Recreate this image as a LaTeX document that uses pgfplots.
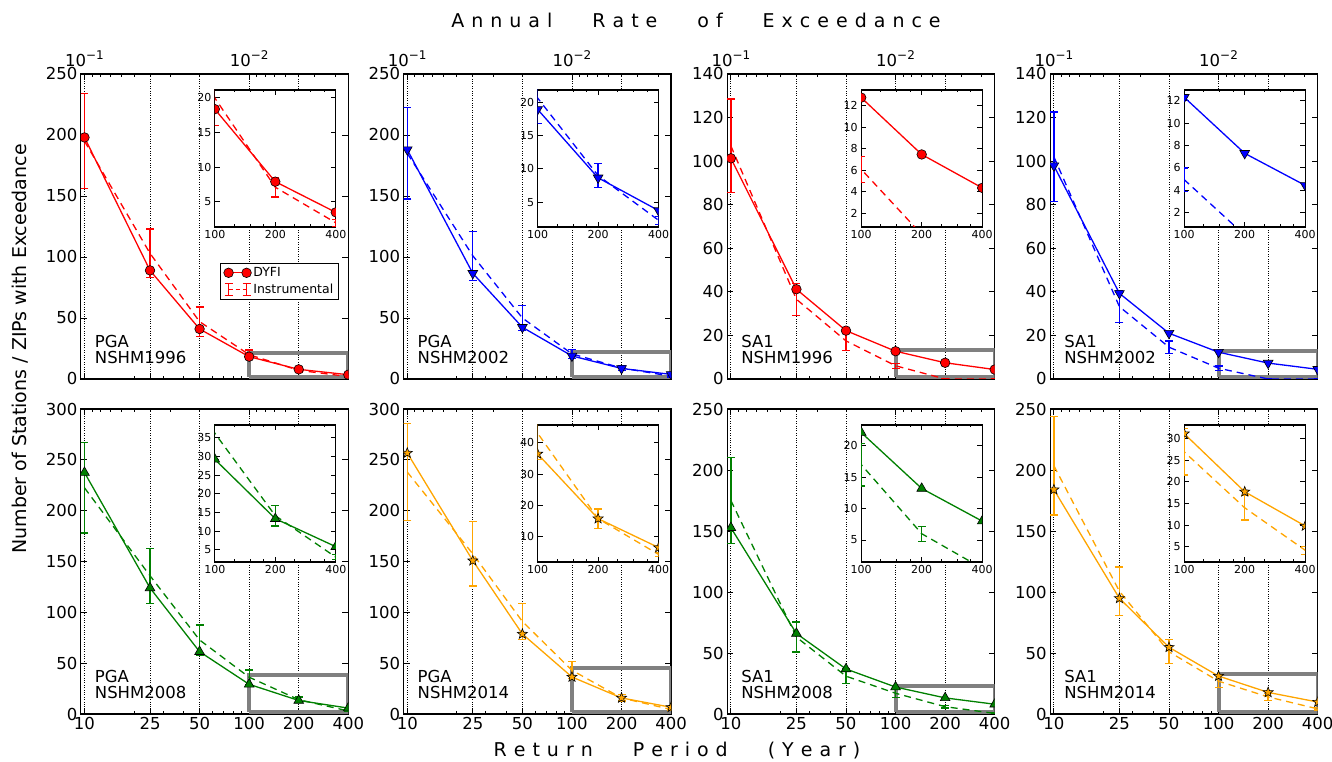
\documentclass[border=0pt]{standalone}
\usepackage{fontspec}
\setmainfont{DejaVu Sans}
\usepackage{pgfplots}
\usepackage{pgfplotstable}
\pgfplotsset{compat=1.18}

\definecolor{mplgreen}{rgb}{0,0.5,0}
\definecolor{mplorange}{HTML}{FFA500}

% filled five-pointed star
\pgfdeclareplotmark{fstar}{%
  \pgfpathmoveto{\pgfpointpolar{90}{\pgfplotmarksize}}%
  \pgfpathlineto{\pgfpointpolar{126}{0.42\pgfplotmarksize}}%
  \pgfpathlineto{\pgfpointpolar{162}{\pgfplotmarksize}}%
  \pgfpathlineto{\pgfpointpolar{198}{0.42\pgfplotmarksize}}%
  \pgfpathlineto{\pgfpointpolar{234}{\pgfplotmarksize}}%
  \pgfpathlineto{\pgfpointpolar{270}{0.42\pgfplotmarksize}}%
  \pgfpathlineto{\pgfpointpolar{306}{\pgfplotmarksize}}%
  \pgfpathlineto{\pgfpointpolar{342}{0.42\pgfplotmarksize}}%
  \pgfpathlineto{\pgfpointpolar{18}{\pgfplotmarksize}}%
  \pgfpathlineto{\pgfpointpolar{54}{0.42\pgfplotmarksize}}%
  \pgfpathclose\pgfusepathqfillstroke}

% x = return period, d = DYFI, i = instrumental, e = instrumental error
\pgfplotstableread{
x d i e
10 198 195 39
25 89 103 20
50 41 47 12
100 18.3 19.9 3.9
200 7.9 7.1 1.4
400 3.5 2.0 0.5
}\tA
\pgfplotstableread{
x d i e
10 188 185 37.5
25 86.6 101 20
50 42.4 50 10
100 18.9 20.6 3.8
200 8.66 9.0 1.8
400 3.76 2.3 0.6
}\tB
\pgfplotstableread{
x d i e
10 101.3 107 21.5
25 41.2 36.6 7.3
50 22.2 17.5 4.3
100 12.74 6.07 1.2
200 7.45 0 0
400 4.34 0 0
}\tC
\pgfplotstableread{
x d i e
10 97.9 102 20.5
25 39.3 33.2 7.2
50 21 14.6 2.8
100 12.3 4.95 1.05
200 7.3 0 0
400 4.44 0 0
}\tD
\pgfplotstableread{
x d i e
10 237.5 222.5 44.5
25 124 136 27
50 61.3 72.8 14.7
100 29.2 36.2 7
200 13.3 14.1 2.75
400 5.8 3.0 0.7
}\tE
\pgfplotstableread{
x d i e
10 256.7 238 47.4
25 150.8 157.5 31.5
50 78.7 91 18
100 36.4 43 8.4
200 15.8 15.8 3.1
400 6.6 4.4 0.6
}\tF
\pgfplotstableread{
x d i e
10 152.7 175 35
25 66 63 12.3
50 36.9 31 6
100 22.1 17.0 3.4
200 13.2 6.0 1.2
400 8.0 0.5 0.3
}\tG
\pgfplotstableread{
x d i e
10 183.9 203.5 40.5
25 94.8 100.6 20
50 54.7 51 9.8
100 31.1 26.9 5.35
200 17.7 14.0 2.8
400 9.8 4.2 0.9
}\tH

\pgfplotsset{
  /pgf/number format/assume math mode=true,
  dyfi/.style={line width=1.3pt, solid},
  dyfi-red/.style={dyfi, red, mark=*, mark size=4.8pt,
    mark options={fill=red, draw=black, line width=0.6pt, solid}},
  dyfi-blue/.style={dyfi, blue, mark=triangle*, mark size=5.6pt,
    mark options={rotate=180, fill=blue, draw=black, line width=0.6pt, solid}},
  dyfi-green/.style={dyfi, mplgreen, mark=triangle*, mark size=5.6pt,
    mark options={fill=mplgreen, draw=black, line width=0.6pt, solid}},
  dyfi-orange/.style={dyfi, mplorange, mark=fstar, mark size=5.3pt,
    mark options={fill=mplorange, draw=black, line width=0.6pt, solid}},
  instr/.style={line width=1.3pt, dash pattern=on 7pt off 5pt, mark=none,
    error bars/y dir=both, error bars/y explicit,
    error bars/error bar style={solid, line width=1.3pt},
    error bars/error mark options={rotate=90, solid, line width=1.3pt, mark size=4pt}},
  instr-red/.style={instr, red},
  instr-blue/.style={instr, blue},
  instr-green/.style={instr, mplgreen},
  instr-orange/.style={instr, mplorange},
}
\tikzset{panel label/.style={anchor=south west, inner sep=0pt, align=left,
    font=\fontsize{16.5}{16.5}\selectfont}}

% #1 left, #2 bottom, #3 table, #4 colour, #5 y options, #6 label,
% #7/#8 inset y range (also the grey box), #9 inset y ticks
% \botlabels / \toplabels hold the x tick labels of the row
\newcommand{\panel}[9]{%
  \begin{axis}[
    scale only axis, width=267.5pt, height=305pt,
    xmode=log, xmin=9.5, xmax=400, ymin=0, #5,
    xtick={10,25,50,100,200,400}, minor xtick={20,30,40,60,70,80,90,300},
    xticklabels/.expand once=\botlabels,
    xtick pos=left, ytick pos=both, tick align=inside,
    xmajorgrids, major grid style={black, dotted, line width=0.8pt},
    axis line style={line width=1.3pt},
    major tick length=6pt, minor tick length=3pt,
    tick style={black, line width=0.9pt},
    tick label style={font=\fontsize{16.5}{19}\selectfont},
    clip marker paths=true,
    legend cell align=left,
    legend style={at={(0.964,0.38)}, anchor=north east, draw=black,
      line width=0.8pt, font=\fontsize{12.5}{14}\selectfont, row sep=2pt},
    at={(#1pt,#2pt)}, anchor=south west]
    \addplot[gray, line width=4pt, line join=miter, forget plot]
      coordinates {(100,#7) (400,#7) (400,#8) (100,#8) (100,#7)};
    \addplot[instr-#4, forget plot] table[x=x, y=i, y error=e] {#3};
    \addplot[dyfi-#4, forget plot] table[x=x, y=d] {#3};
    \node[panel label] at (rel axis cs:0.052,0.048) {#6};
    \panelextra
  \end{axis}
  \begin{axis}[
    scale only axis, width=267.5pt, height=305pt,
    xmode=log, xmin=9.5, xmax=400, ymin=0, ymax=1,
    axis x line*=top, hide y axis, tick align=inside,
    xtick={10,100}, xticklabels/.expand once=\toplabels,
    minor xtick={11.11,12.5,14.29,16.67,20,25,33.33,50,111.1,125,142.9,166.7,200,250,333.3},
    axis line style={line width=1.3pt},
    major tick length=6pt, minor tick length=3pt,
    tick style={black, line width=0.9pt},
    at={(#1pt,#2pt)}, anchor=south west]
  \end{axis}
  \begin{axis}[
    scale only axis, width=121pt, height=137pt,
    xmode=log, xmin=100, xmax=400, ymin=#7, ymax=#8, ytick={#9},
    xtick={100,200,400}, xticklabels={100,200,400},
    minor xtick={125,150,175,250,300,350},
    tick align=inside, axis background/.style={fill=white},
    axis line style={line width=1.3pt},
    major tick length=5pt, minor tick length=2.5pt,
    tick style={black, line width=0.9pt},
    tick label style={font=\fontsize{11}{13}\selectfont},
    clip marker paths=true,
    at={({#1pt+134pt},{#2pt+152pt})}, anchor=south west]
    \addplot[instr-#4] table[x=x, y=i, y error=e] {#3};
    \addplot[dyfi-#4] table[x=x, y=d] {#3};
  \end{axis}%
}

\newcommand{\lsp}{\hspace{7pt}}
\newcommand{\wsp}{\hspace{40pt}}
% rate labels on the top axis; the strut's depth lifts them off the frame
\newcommand{\tenpow}[1]{{\fontsize{16.5}{19}\selectfont
  \rule[-4pt]{0pt}{4pt}10\raisebox{0.45em}{\fontsize{12}{12}\selectfont −#1}}}

\begin{document}
\begin{tikzpicture}
\useasboundingbox (0,0) rectangle (1332pt,762pt);

\def\panelextra{%
  \addlegendimage{legend image code/.code={
    \draw[red, line width=1.3pt, mark=*, mark size=4.8pt,
      mark options={fill=red, draw=black, line width=0.6pt}]
      plot coordinates {(0pt,0pt) (18pt,0pt)};}}
  \addlegendentry{DYFI}
  \addlegendimage{legend image code/.code={
    \draw[red, line width=1.3pt, dash pattern=on 4pt off 3pt] (0pt,0pt) -- (18pt,0pt);
    \draw[red, line width=1.3pt] (0pt,-6pt) -- (0pt,6pt) (-4pt,-6pt) -- (4pt,-6pt)
      (-4pt,6pt) -- (4pt,6pt) (18pt,-6pt) -- (18pt,6pt)
      (14pt,-6pt) -- (22pt,-6pt) (14pt,6pt) -- (22pt,6pt);}}
  \addlegendentry{Instrumental}}

% top row
\def\botlabels{{,,,,,}}
\def\toplabels{{\tenpow{1},\tenpow{2}}}
\panel{80.8}{383}{\tA}{red}{ymax=250, ytick={0,50,...,250}}{PGA\\NSHM1996}{1.4}{21.05}{5,10,15,20}
\def\panelextra{}
\panel{403.6}{383}{\tB}{blue}{ymax=250, ytick={0,50,...,250}}{PGA\\NSHM2002}{1.3}{21.8}{5,10,15,20}
\panel{727.2}{383}{\tC}{red}{ymax=140, ytick={0,20,...,140}}{SA1\\NSHM1996}{0.7}{13.45}{2,4,...,12}
\panel{1050.2}{383}{\tD}{blue}{ymax=140, ytick={0,20,...,140}}{SA1\\NSHM2002}{0.73}{12.95}{2,4,...,12}

% bottom row
\def\botlabels{{10,25,50,100,200,400}}
\def\toplabels{{,}}
\panel{80.8}{48}{\tE}{green}{ymax=300, ytick={0,50,...,300}}{PGA\\NSHM2008}{1.7}{38.4}{5,10,...,35}
\panel{403.6}{48}{\tF}{orange}{ymax=300, ytick={0,50,...,300}}{PGA\\NSHM2014}{2.0}{45.6}{10,20,30,40}
\panel{727.2}{48}{\tG}{green}{ymax=250, ytick={0,50,...,250}}{SA1\\NSHM2008}{1.5}{23.3}{5,10,15,20}
\panel{1050.2}{48}{\tH}{orange}{ymax=250, ytick={0,50,...,250}}{SA1\\NSHM2014}{1.5}{33.1}{5,10,...,30}

\node[font=\fontsize{19}{22}\selectfont] at (696pt,742pt)
  {A\lsp n\lsp n\lsp u\lsp a\lsp l\wsp R\lsp a\lsp t\lsp e\wsp o\lsp f\wsp
   E\lsp x\lsp c\lsp e\lsp e\lsp d\lsp a\lsp n\lsp c\lsp e};
\node[font=\fontsize{19}{22}\selectfont] at (677pt,11pt)
  {R\lsp e\lsp t\lsp u\lsp r\lsp n\wsp P\lsp e\lsp r\lsp i\lsp o\lsp d\wsp
   (\lsp Y\lsp e\lsp a\lsp r\lsp )};
\node[rotate=90, font=\fontsize{19}{22}\selectfont] at (20pt,413pt)
  {Number of Stations / ZIPs with Exceedance};
\end{tikzpicture}
\end{document}
